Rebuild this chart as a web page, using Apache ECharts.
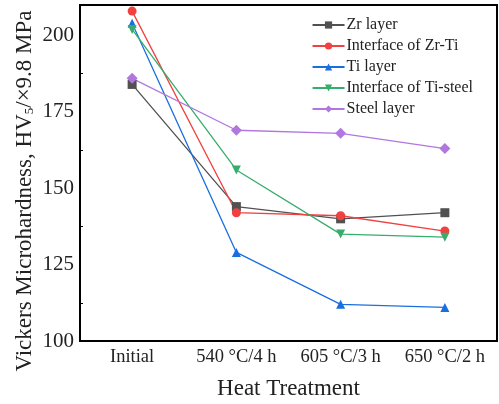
<!DOCTYPE html>
<html>
<head>
<meta charset="utf-8">
<script src="https://cdn.jsdelivr.net/npm/echarts@6/dist/echarts.min.js"></script>
<style>
  html, body { margin: 0; padding: 0; background: #fff; }
  #chart { width: 499px; height: 404px; }
</style>
</head>
<body>
<div id="chart"></div>
<script>
const categories = ['Initial', '540 °C/4 h', '605 °C/3 h', '650 °C/2 h'];
const zrLayer = [184, 144, 140, 142];
const zrTi = [208, 142, 141, 136];
const tiLayer = [204, 129, 112, 111];
const tiSteel = [202, 156, 135, 134];
const steelLayer = [186, 169, 168, 163];
const yTicks = [100, 125, 150, 175, 200];

const font = 'Liberation Serif';
const colors = ['#515151', '#F14040', '#1A6FDF', '#37AD6B', '#B177DE'];
const downTri = 'path://M0,0 L10,0 L5,9 Z';

function mk(name, data, symbol, color) {
  return {
    name: name,
    type: 'line',
    data: data,
    symbol: symbol,
    symbolSize: symbol === 'diamond' ? 11 : 9,
    itemStyle: { color: color },
    lineStyle: { color: color, width: 1.3 }
  };
}

const chart = echarts.init(document.getElementById('chart'));
chart.setOption({
  animation: false,
  color: colors,
  grid: {
    left: 80, right: 2, top: 5, bottom: 63,
    outerBoundsMode: 'none',
    show: true, borderColor: '#000', borderWidth: 2
  },
  legend: {
    right: 21, top: 12, orient: 'vertical',
    itemWidth: 32, itemHeight: 9, itemGap: 5,
    textStyle: { fontFamily: font, fontSize: 16, color: '#222', padding: [0, 0, 0, -3] }
  },
  xAxis: {
    type: 'category',
    data: categories,
    boundaryGap: true,
    name: 'Heat Treatment',
    nameLocation: 'middle',
    nameGap: 36,
    nameMoveOverlap: false,
    nameTextStyle: { fontFamily: font, fontSize: 23, color: '#222' },
    axisLine: { lineStyle: { color: '#000', width: 2 } },
    axisTick: { inside: true, alignWithLabel: true, length: 5, lineStyle: { color: '#000', width: 1.5 } },
    axisLabel: { fontFamily: font, fontSize: 18.5, color: '#222', margin: 7, interval: 0 },
    splitLine: { show: false }
  },
  yAxis: {
    type: 'value',
    min: 100, max: 210, interval: 25,
    name: '{a|Vickers Microhardness, HV}{s|5}{a|/×9.8 MPa}',
    nameLocation: 'middle',
    nameGap: 44,
    nameMoveOverlap: false,
    nameRotate: 90,
    nameTextStyle: {
      padding: [0, 36, 0, 0],
      rich: {
        a: { fontFamily: font, fontSize: 23, color: '#222' },
        s: { fontFamily: font, fontSize: 13, color: '#222', verticalAlign: 'bottom', padding: [10, 0, 0, 0] }
      }
    },
    axisLine: { show: true, lineStyle: { color: '#000', width: 2 } },
    axisTick: { inside: true, length: 5, lineStyle: { color: '#000', width: 1.5 } },
    minorTick: { show: true, splitNumber: 2, length: 3, lineStyle: { color: '#000' } },
    axisLabel: {
      fontFamily: font, fontSize: 21, color: '#222', margin: 6,
      formatter: v => (yTicks.indexOf(v) >= 0 ? String(v) : '')
    },
    splitLine: { show: false }
  },
  series: [
    mk('Zr layer', zrLayer, 'rect', colors[0]),
    mk('Interface of Zr-Ti', zrTi, 'circle', colors[1]),
    mk('Ti layer', tiLayer, 'triangle', colors[2]),
    mk('Interface of Ti-steel', tiSteel, downTri, colors[3]),
    mk('Steel layer', steelLayer, 'diamond', colors[4])
  ]
});
</script>
</body>
</html>
